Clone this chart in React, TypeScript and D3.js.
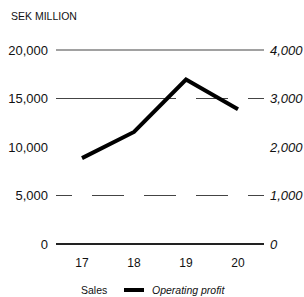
import { useEffect, useRef } from 'react';
import * as d3 from "d3";

const years = ["17", "18", "19", "20"];
const sales = [12500, 13500, 17500, 16500];
const operatingProfit = [1770, 2310, 3390, 2780];
const leftTicks = [0, 5000, 10000, 15000, 20000];
const rightTicks = [0, 1000, 2000, 3000, 4000];

const App: React.FC = () => {
    const ref = useRef<SVGSVGElement | null>(null);

    useEffect(() => {
        if (!ref.current) return;
        const width = 304;
        const height = 297;
        const svg = d3.select(ref.current).attr("width", width).attr("height", height);
        svg.selectAll("*").remove();

        const font = "'Liberation Sans', Arial, Helvetica, sans-serif";
        const left = 56, right = 264, top = 50, bottom = 244;

        const x = d3.scalePoint<string>().domain(years).range([left, right]).padding(0.5);
        const yL = d3.scaleLinear().domain([0, 20000]).range([bottom, top]);
        const yR = d3.scaleLinear().domain([0, 4000]).range([bottom, top]);
        const barW = 20;

        svg.append("text")
            .attr("x", 11).attr("y", 20)
            .attr("font-family", font).attr("font-size", 10.5)
            .attr("fill", "#111")
            .text("SEK MILLION");

        // grid lines (10,000 line is not visible in the original)
        svg.selectAll(".grid")
            .data(leftTicks.filter(d => d !== 0 && d !== 10000))
            .enter().append("line")
            .attr("x1", left).attr("x2", right)
            .attr("y1", d => yL(d)).attr("y2", d => yL(d))
            .attr("stroke", "#444").attr("stroke-width", 1.2);

        // sales bars are white, they only hide the grid
        svg.selectAll(".bar")
            .data(sales)
            .enter().append("rect")
            .attr("x", (_, i) => (x(years[i]) || 0) - barW / 2)
            .attr("y", d => yL(d))
            .attr("width", barW)
            .attr("height", d => bottom - yL(d))
            .attr("fill", "#fff");

        svg.append("line")
            .attr("x1", left).attr("x2", right)
            .attr("y1", yL(0)).attr("y2", yL(0))
            .attr("stroke", "#222").attr("stroke-width", 2);

        svg.selectAll(".lt")
            .data(leftTicks)
            .enter().append("text")
            .attr("x", 48).attr("y", d => yL(d))
            .attr("dy", "0.35em")
            .attr("text-anchor", "end")
            .attr("font-family", font).attr("font-size", 13)
            .attr("fill", "#111")
            .text(d => d3.format(",")(d));

        svg.selectAll(".rt")
            .data(rightTicks)
            .enter().append("text")
            .attr("x", 270).attr("y", d => yR(d))
            .attr("dy", "0.35em")
            .attr("font-family", font).attr("font-size", 13)
            .attr("font-style", "italic")
            .attr("fill", "#111")
            .text(d => d3.format(",")(d));

        svg.selectAll(".xt")
            .data(years)
            .enter().append("text")
            .attr("x", d => x(d) || 0).attr("y", 267)
            .attr("text-anchor", "middle")
            .attr("font-family", font).attr("font-size", 12)
            .attr("fill", "#111")
            .text(d => d);

        const line = d3.line<number>()
            .x((_, i) => x(years[i]) || 0)
            .y(d => yR(d));

        svg.append("path")
            .datum(operatingProfit)
            .attr("fill", "none")
            .attr("stroke", "#000")
            .attr("stroke-width", 4)
            .attr("d", line);

        // legend
        svg.append("text")
            .attr("x", 81).attr("y", 294)
            .attr("font-family", font).attr("font-size", 10.5)
            .attr("fill", "#111")
            .text("Sales");
        svg.append("line")
            .attr("x1", 124).attr("x2", 144)
            .attr("y1", 290).attr("y2", 290)
            .attr("stroke", "#000").attr("stroke-width", 4);
        svg.append("text")
            .attr("x", 152).attr("y", 294)
            .attr("font-family", font).attr("font-size", 10.5)
            .attr("font-style", "italic")
            .attr("fill", "#111")
            .text("Operating profit");
    }, []);

    return (
        <svg ref={ref} style={{ position: "absolute", left: 0, top: 0, background: "#fff" }}></svg>
    );
}

export default App;
